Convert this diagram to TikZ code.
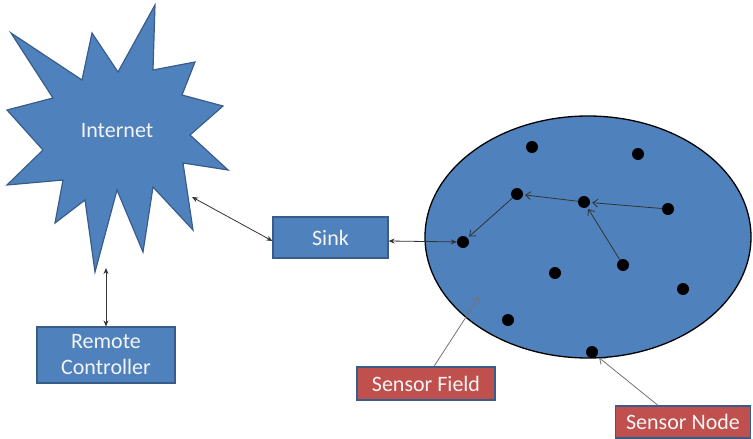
\documentclass[tikz,border=0pt]{standalone}
\usepackage{fontspec}
\setmainfont{Carlito}
\usetikzlibrary{arrows.meta}
\definecolor{boxblue}{HTML}{4F81BD}
\definecolor{edgeblue}{HTML}{385D8A}
\definecolor{boxred}{HTML}{C0504D}
\definecolor{txt}{HTML}{F4F4F4}
\tikzset{
  bluebox/.style={draw=edgeblue, line width=1.2pt, fill=boxblue, text=txt, font=\fontsize{22}{27}\selectfont, inner sep=0pt, align=center},
  redbox/.style={draw=edgeblue, line width=1.2pt, fill=boxred, text=txt, font=\fontsize{22}{27}\selectfont, inner sep=0pt},
  mote/.style={circle, fill=black, inner sep=0pt, minimum size=12pt},
  link/.style={draw=black!80, line width=0.8pt, {Stealth[length=6pt,width=5pt]}-{Stealth[length=6pt,width=5pt]}},
  hop/.style={draw=black!80, line width=0.8pt, -{Straight Barb[length=5pt,width=8pt]}, shorten >=2pt},
  callout/.style={draw=black!55, line width=0.8pt, -{Straight Barb[length=5pt,width=8pt]}}
}
\begin{document}
\begin{tikzpicture}[x=1pt, y=-1pt]
\useasboundingbox (0,0) rectangle (753,439);

% Internet burst
\draw[fill=boxblue, draw=edgeblue, line width=1.2pt, line join=miter]
  (155,5) -- (153,70) -- (195,62) -- (182,95) -- (223,106) -- (190,135)
  -- (228,170) -- (183,163) -- (193,230) -- (153,187) -- (143,252)
  -- (117,190) -- (95,272) -- (85,200) -- (55,223) -- (63,180)
  -- (7,185) -- (43,150) -- (7,110) -- (53,98) -- (11,33) -- (82,80)
  -- (92,33) -- (118,72) -- cycle;
\node[text=txt, font=\fontsize{22}{27}\selectfont] (internet) at (117,131) {Internet};
\coordinate (netright) at (192,197);
\coordinate (netbottom) at (106,268);

% Boxes
\node[bluebox, minimum width=115pt, minimum height=41pt] (sink) at (330.5,237.5) {Sink};
\node[bluebox, minimum width=138pt, minimum height=56pt] (remote) at (106,355) {Remote\\[-1pt]Controller};

% Sensor field
\draw[fill=boxblue, draw=black, line width=1.3pt] (588,237) ellipse [x radius=163, y radius=121];
\coordinate (fieldpt) at (479,297);

% Sensor motes
\node[mote] (m1) at (532,147) {};
\node[mote] (m2) at (638,154) {};
\node[mote] (m3) at (517,194) {};
\node[mote] (m4) at (584,202) {};
\node[mote] (m5) at (668,209) {};
\node[mote] (m6) at (463,242) {};
\node[mote] (m7) at (555,273) {};
\node[mote] (m8) at (623,265) {};
\node[mote] (m9) at (683,289) {};
\node[mote] (m10) at (508,320) {};
\node[mote] (m11) at (592,352) {};

% Links
\draw[link] (netright) -- (sink.west |- 0,241);
\draw[link] (netbottom) -- (remote.north);
\draw[link] (sink.east |- 0,241) -- (m6);

% Multi-hop routing
\draw[hop] (m5) -- (m4);
\draw[hop] (m8) -- (m4);
\draw[hop] (m4) -- (m3);
\draw[hop] (m3) -- (m6);

% Labels
\node[redbox, minimum width=138pt, minimum height=33pt] (fieldlbl) at (426,383.5) {Sensor Field};
\node[redbox, minimum width=135pt, minimum height=32pt] (nodelbl) at (683,422) {Sensor Node};
\draw[callout] (fieldlbl.north -| 434,0) -- (fieldpt);
\draw[callout, shorten >=3pt] (nodelbl.north -| 658,0) -- (m11);
\end{tikzpicture}
\end{document}
